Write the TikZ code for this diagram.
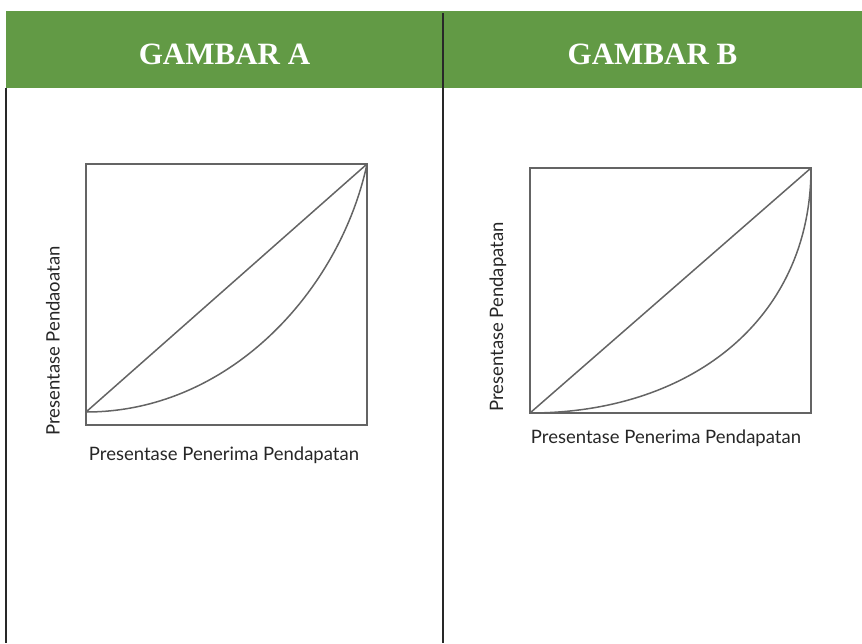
\documentclass[tikz,border=0pt]{standalone}
\usepackage{fontspec}
\setmainfont{Liberation Serif}
\newfontfamily\labelfont{Lato}
\definecolor{hdr}{RGB}{98,154,69}
\definecolor{ln}{RGB}{100,100,100}
\definecolor{rule}{RGB}{40,40,40}
\begin{document}
\begin{tikzpicture}[x=1pt,y=-1pt,
  hdrtext/.style={text=white,inner sep=0pt,font=\fontsize{31}{36}\selectfont\bfseries},
  plotbox/.style={draw=ln,line width=1.8pt,inner sep=0pt,outer sep=0pt},
  curve/.style={draw=ln,line width=1.5pt},
  axlabel/.style={inner sep=0pt,text=black!85,font=\labelfont\fontsize{18.5}{22}\selectfont},
  sep/.style={draw=rule,line width=1.6pt}]
\useasboundingbox (0,0) rectangle (862,643);
% header
\fill[hdr] (6,11) rectangle (862,88);
\coordinate (l0) at (6,88);
\coordinate (l1) at (6,643);
\coordinate (d0) at (443,13);
\coordinate (d1) at (443,643);
\draw[sep] (l0) -- (l1);
\draw[sep] (d0) -- (d1);
\node[hdrtext] (ha) at (224.5,54) {GAMBAR A};
\node[hdrtext] (hb) at (652.5,54) {GAMBAR B};
% plot A
\node[plotbox,minimum width=281pt,minimum height=261pt] (boxA) at (226.5,294.5) {};
\coordinate (a0) at (86,412);
\coordinate (a1) at (boxA.north east);
\draw[curve] (a0) -- (a1);
\draw[curve] (a0) .. controls (230,412) and (340,290) .. (a1);
\node[axlabel] (xa) at (224,455) {Presentase Penerima Pendapatan};
\node[axlabel,rotate=90] (ya) at (53,341) {Presentase Pendaoatan};
% plot B
\node[plotbox,minimum width=281pt,minimum height=245pt] (boxB) at (670.5,290.5) {};
\coordinate (b0) at (boxB.south west);
\coordinate (b1) at (boxB.north east);
\draw[curve] (b0) -- (b1);
\draw[curve] (b0) .. controls (690,413) and (811,320) .. (b1);
\node[axlabel] (xb) at (666,438) {Presentase Penerima Pendapatan};
\node[axlabel,rotate=90] (yb) at (498,317) {Presentase Pendapatan};
\end{tikzpicture}
\end{document}
